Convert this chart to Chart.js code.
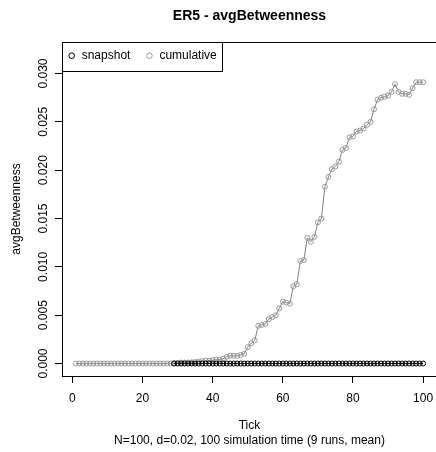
<!DOCTYPE html>
<html>
<head>
<meta charset="utf-8">
<script src="https://cdn.jsdelivr.net/npm/chart.js@4/dist/chart.umd.min.js"></script>
<style>
html,body{margin:0;padding:0;overflow:hidden;background:#ffffff;}
#wrap{width:442px;height:452px;position:relative;}
</style>
</head>
<body>
<div id="wrap"><canvas id="c" width="442" height="452" style="width:442px;height:452px"></canvas></div>
<script>
// ---- data ----
const ticks = [1,2,3,4,5,6,7,8,9,10,11,12,13,14,15,16,17,18,19,20,
  21,22,23,24,25,26,27,28,29,30,31,32,33,34,35,36,37,38,39,40,
  41,42,43,44,45,46,47,48,49,50,51,52,53,54,55,56,57,58,59,60,
  61,62,63,64,65,66,67,68,69,70,71,72,73,74,75,76,77,78,79,80,
  81,82,83,84,85,86,87,88,89,90,91,92,93,94,95,96,97,98,99,100];

const snapshot = [null,null,null,null,null,null,null,null,null,null,
  null,null,null,null,null,null,null,null,null,null,
  null,null,null,null,null,null,null,null,0,0,
  0,0,0,0,0,0,0,0,0,0,
  0,0,0,0,0,0,0,0,0,0,
  0,0,0,0,0,0,0,0,0,0,
  0,0,0,0,0,0,0,0,0,0,
  0,0,0,0,0,0,0,0,0,0,
  0,0,0,0,0,0,0,0,0,0,
  0,0,0,0,0,0,0,0,0,0];

const cumulative = [0,0,0,0,0,0,0,0,0,0,
  0,0,0,0,0,0,0,0,0,0,
  0,0,0,0,0,0,0,0,0.00005,0.00005,
  0.0001,0.0001,0.0001,0.00012,0.00015,0.0002,0.00025,0.0003,0.0003,0.00035,
  0.0004,0.0004,0.0005,0.0007,0.0008,0.0008,0.0008,0.0009,0.0010,0.0017,
  0.0021,0.0024,0.0039,0.0040,0.0041,0.0046,0.0048,0.0050,0.0057,0.0064,
  0.0063,0.0062,0.0080,0.0082,0.0106,0.0107,0.0130,0.0126,0.0131,0.0146,
  0.0150,0.0183,0.0193,0.0201,0.0204,0.0209,0.0221,0.0223,0.0234,0.0235,
  0.0240,0.0241,0.0243,0.0247,0.0250,0.0263,0.0273,0.0275,0.0276,0.0277,
  0.0281,0.0289,0.0281,0.0279,0.0279,0.0278,0.0285,0.0291,0.0291,0.0291];

const xTickValues = [0,20,40,60,80,100];
const xTickLabels = ['0','20','40','60','80','100'];
const yTickValues = [0,0.005,0.010,0.015,0.020,0.025,0.030];
const yTickLabels = ['0.000','0.005','0.010','0.015','0.020','0.025','0.030'];

const titleText = 'ER5 - avgBetweenness';
const xTitle = ['Tick', 'N=100, d=0.02, 100 simulation time (9 runs, mean)'];
const yTitle = 'avgBetweenness';

// ---- chart ----
Chart.defaults.font.family = "'Liberation Sans', Arial, sans-serif";
Chart.defaults.color = '#000000';

const toXY = arr => ticks.map((t, i) => ({x: t, y: arr[i]}));

const boxPlugin = {
  id: 'rBox',
  afterLayout(chart) {
    const lg = chart.legend, ca = chart.chartArea;
    if (!lg) return;
    lg.left = ca.left - 9.3;
    lg.top = ca.top - 7.3;
    lg.width = 300;
    lg.height = 40;
    lg.right = lg.left + lg.width;
    lg.bottom = lg.top + lg.height;
  },
  afterDraw(chart) {
    const ctx = chart.ctx, ca = chart.chartArea;
    ctx.save();
    ctx.strokeStyle = '#000000';
    ctx.lineWidth = 1;
    const l = Math.round(ca.left) + 0.5, t = Math.round(ca.top) + 0.5;
    const r = Math.round(ca.right) + 0.5, b = Math.round(ca.bottom) + 0.5;
    ctx.strokeRect(l, t, r - l, b - t);
    // legend frame
    ctx.strokeRect(l, t, 160, 29);
    ctx.restore();
  }
};

new Chart(document.getElementById('c'), {
  type: 'line',
  data: {
    datasets: [
      {
        label: 'snapshot',
        data: toXY(snapshot),
        borderColor: '#000000',
        backgroundColor: 'rgba(0,0,0,0)',
        borderWidth: 1,
        pointStyle: 'circle',
        pointRadius: 2.5,
        pointBorderWidth: 1,
        pointBorderColor: '#000000',
        pointBackgroundColor: 'rgba(0,0,0,0)',
        fill: false,
        tension: 0,
        spanGaps: false
      },
      {
        label: 'cumulative',
        data: toXY(cumulative),
        borderColor: '#808080',
        backgroundColor: 'rgba(0,0,0,0)',
        borderWidth: 1,
        pointStyle: 'circle',
        pointRadius: 2.5,
        pointBorderWidth: 1,
        pointBorderColor: '#999999',
        pointBackgroundColor: 'rgba(0,0,0,0)',
        fill: false,
        tension: 0
      }
    ]
  },
  options: {
    responsive: false,
    animation: false,
    devicePixelRatio: 1,
    layout: {padding: {left: 0, right: 3, top: 0, bottom: 0}},
    plugins: {
      title: {
        display: true, text: titleText, fullSize: false,
        font: {size: 14, weight: 'bold'}, color: '#000000',
        padding: {top: 7.6, bottom: 17.6}
      },
      legend: {
        display: true, position: 'top', align: 'start', maxHeight: 0.01,
        labels: {usePointStyle: true, boxWidth: 8, boxHeight: 4, padding: 15,
                 font: {size: 12}, color: '#000000'}
      },
      tooltip: {enabled: false}
    },
    scales: {
      x: {
        type: 'linear', min: -2.96, max: 103.96,
        afterBuildTicks: s => { s.ticks = xTickValues.map(v => ({value: v})); },
        ticks: {callback: (v, i) => xTickLabels[i], font: {size: 12}, color: '#000000',
                padding: 8, maxRotation: 0, minRotation: 0, autoSkip: false},
        grid: {display: true, drawOnChartArea: false, drawTicks: true, tickLength: 7,
               color: '#000000', tickColor: '#000000'},
        border: {display: false},
        title: {display: true, text: xTitle, font: {size: 12, lineHeight: 1.25}, color: '#000000',
                padding: {top: 0, bottom: 3.5}},
        afterFit: s => { s.height = 76; }
      },
      y: {
        type: 'linear', min: -0.00129, max: 0.03326,
        afterBuildTicks: s => { s.ticks = yTickValues.map(v => ({value: v})); },
        ticks: {callback: (v, i) => yTickLabels[i], font: {size: 12}, color: '#000000',
                minRotation: 90, maxRotation: 90, crossAlign: 'center', padding: -4, autoSkip: false},
        grid: {display: true, drawOnChartArea: false, drawTicks: true, tickLength: 7,
               color: '#000000', tickColor: '#000000'},
        border: {display: false},
        title: {display: true, text: yTitle, font: {size: 12}, color: '#000000',
                padding: {top: 9.5, bottom: 0}},
        afterFit: s => { s.width = 62; }
      }
    }
  },
  plugins: [boxPlugin]
});
</script>
</body>
</html>
